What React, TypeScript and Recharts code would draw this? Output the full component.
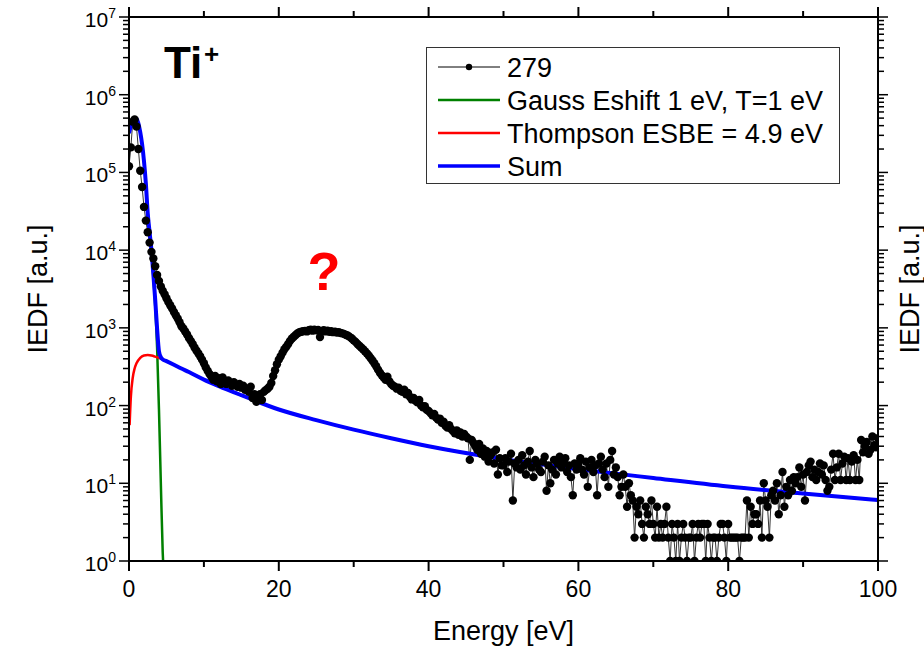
import React from 'react';
import { LineChart, Line, XAxis, YAxis } from 'recharts';

const FONT = '"Liberation Sans", Arial, Helvetica, sans-serif';

// measured spectrum "279", one value every ENERGY_STEP eV from 0 to 100 eV
const ENERGY_STEP = 0.25;
const counts279 = [
  // 0 - 4.75
  1.2e5, 2.1e5, 4.5e5, 4.8e5, 3.9e5, 2.0e5, 1.05e5, 6.5e4, 3.6e4, 2.4e4, 1.7e4, 1.25e4, 9.5e3, 7.8e3, 6.2e3, 4.8e3, 4.0e3, 3.4e3, 3.0e3, 2.7e3,
  // 5 - 9.75
  2.4e3, 2.15e3, 1.95e3, 1.78e3, 1.6e3, 1.45e3, 1.32e3, 1.18e3, 1.05e3, 980, 900, 820, 740, 680, 620, 560, 510, 470, 430, 390,
  // 10 - 14.75
  350, 310, 280, 255, 235, 215, 240, 205, 225, 190, 230, 205, 190, 210, 195, 180, 200, 185, 175, 190,
  // 15 - 19.75
  170, 180, 160, 165, 150, 175, 125, 140, 112, 120, 140, 118, 150, 158, 165, 175, 195, 240, 285, 340,
  // 20 - 24.75
  390, 430, 480, 530, 570, 620, 680, 730, 770, 810, 850, 880, 890, 905, 915, 900, 930, 950, 920, 945,
  // 25 - 29.75
  930, 940, 760, 910, 930, 900, 920, 890, 905, 880, 890, 870, 880, 860, 850, 830, 810, 790, 760, 730,
  // 30 - 34.75
  690, 660, 620, 590, 560, 530, 500, 470, 440, 410, 380, 350, 320, 290, 265, 245, 230, 215, 235, 205,
  // 35 - 39.75
  190, 180, 175, 165, 170, 155, 150, 160, 140, 145, 130, 120, 125, 115, 110, 118, 100, 95, 98, 88,
  // 40 - 44.75
  85, 80, 75, 78, 70, 66, 68, 60, 62, 55, 52, 56, 50, 47, 44, 48, 42, 45, 40, 43,
  // 45 - 49.75
  40, 38, 20, 36, 33, 30, 27, 32, 24, 28, 22, 26, 19, 23, 25, 18, 27, 13, 21, 17,
  // 50 - 54.75
  17, 21, 14, 19, 24, 6, 18, 16, 20, 15, 23, 17, 13, 19, 26, 16, 12, 20, 18, 15,
  // 55 - 59.75
  14, 19, 22, 8, 17, 10, 15, 20, 13, 18, 22, 16, 19, 21, 14, 17, 12, 7, 18, 15,
  // 60 - 64.75
  18, 21, 15, 13, 19, 9, 16, 20, 14, 17, 7, 18, 22, 15, 12, 18, 9, 20, 26, 13,
  // 65 - 69.75
  16, 12, 7, 9, 13, 9, 5, 10, 7, 6, 2, 5, 4, 6, 3, 2, 5, 4, 3, 6,
  // 70 - 74.75
  3, 2, 5, 2, 3, 2, 3, 5, 2, 1, 3, 2, 1, 3, 1, 2, 3, 2, 1, 2,
  // 75 - 79.75
  2, 3, 1, 2, 3, 2, 3, 3, 1, 3, 2, 1, 2, 2, 1, 2, 3, 3, 2, 1,
  // 80 - 84.75
  3, 2, 2, 2, 2, 2, 1, 2, 2, 2, 6, 2, 5, 3, 4, 4, 3, 6, 2, 10,
  // 85 - 89.75
  6, 5, 2, 7, 8, 6, 10, 4, 7, 14, 5, 9, 7, 11, 8, 12, 10, 12, 16, 9,
  // 90 - 94.75
  13, 6, 14, 17, 19, 12, 15, 11, 14, 18, 13, 17, 11, 8, 9, 15, 24, 11, 16, 24,
  // 95 - 100
  11, 18, 22, 11, 21, 11, 19, 23, 11, 20, 11, 36, 25, 30, 34, 24, 27, 40, 31, 29, 38,
];

// Gauss fit (Eshift 1 eV, T = 1 eV)
const gaussEnergy = [0, 0.25, 0.5, 0.75, 1, 1.25, 1.5, 1.75, 2, 2.25, 2.5, 2.75, 3, 3.25, 3.5, 3.75, 4, 4.25, 4.5, 4.55];
const gaussValues = [3.2e5, 4.0e5, 4.7e5, 5.0e5, 4.9e5, 4.3e5, 3.3e5, 2.3e5, 1.4e5, 7.2e4, 3.0e4, 1.7e4, 9.5e3, 4.5e3, 1.9e3, 560, 90, 10, 1.3, 1];

// Thompson fit (ESBE = 4.9 eV)
const thompsonEnergy = [0.08, 0.25, 0.5, 0.75, 1, 1.5, 2, 2.5, 3, 3.5, 4, 4.5, 5, 6, 7, 8, 10, 12, 15, 20, 25, 30, 35, 40, 50, 60, 70, 80, 90, 100];
const thompsonValues = [56, 130, 228, 300, 350, 412, 440, 446, 440, 426, 410, 392, 373, 335, 300, 270, 216, 178, 136, 89, 65, 49, 38, 30, 20.5, 15.2, 11.7, 9.1, 7.4, 6.1];

// Sum of both fits
const sumEnergy = [0, 0.25, 0.5, 0.75, 1, 1.25, 1.5, 1.75, 2, 2.25, 2.5, 2.75, 3, 3.25, 3.5, 3.75, 4, 4.25, 4.5, 5, 6, 7, 8, 10, 12, 15, 20, 25, 30, 35, 40, 50, 60, 70, 80, 90, 100];
const sumValues = [3.2e5, 4.0e5, 4.7e5, 5.0e5, 4.9e5, 4.3e5, 3.3e5, 2.3e5, 1.4e5, 7.2e4, 3.0e4, 1.7e4, 9.9e3, 4.9e3, 2.3e3, 980, 500, 420, 393, 373, 335, 300, 270, 216, 178, 136, 89, 65, 49, 38, 30, 20.5, 15.2, 11.7, 9.1, 7.4, 6.1];

const xTicks = [0, 10, 20, 30, 40, 50, 60, 70, 80, 90, 100];
const xLabelTicks = [0, 20, 40, 60, 80, 100];
const yDecades = [1, 10, 100, 1e3, 1e4, 1e5, 1e6, 1e7];
const yMinorSteps = [2, 3, 4, 5, 6, 7, 8, 9];

const legendItems = [
  { name: '279', color: '#000', width: 1, marker: true },
  { name: 'Gauss Eshift 1 eV, T=1 eV', color: '#008000', width: 2.5, marker: false },
  { name: 'Thompson ESBE = 4.9 eV', color: '#ff0000', width: 2.5, marker: false },
  { name: 'Sum', color: '#0000ff', width: 3.5, marker: false },
];

const yTicks = yDecades.flatMap((d) => (d < 1e7 ? [d, ...yMinorSteps.map((m) => m * d)] : [d]));
const toRows = (es: number[], vs: number[]) => es.map((e, i) => ({ e, v: vs[i] }));

const data279 = counts279.map((v, i) => ({ e: i * ENERGY_STEP, v }));
const gaussData = toRows(gaussEnergy, gaussValues);
const thompsonData = toRows(thompsonEnergy, thompsonValues);
const sumData = toRows(sumEnergy, sumValues);

const MAJOR_LEN = 10;
const MINOR_LEN = 6;
const isDecade = (v: number) => yDecades.includes(v);

// axes use tickSize 0 / tickMargin 0, so x,y here sit exactly on the frame line
const BottomTick = ({ x, y, payload }: any) => {
  const major = xLabelTicks.includes(payload.value);
  return (
    <g>
      <line x1={x} x2={x} y1={y} y2={y + (major ? MAJOR_LEN : MINOR_LEN)} stroke="#000" strokeWidth={2} />
      {major && (
        <text x={x} y={y + 36} textAnchor="middle" fontSize={23} fontFamily={FONT} fill="#000">
          {payload.value}
        </text>
      )}
    </g>
  );
};

const TopTick = ({ x, y, payload }: any) => {
  const major = xLabelTicks.includes(payload.value);
  return <line x1={x} x2={x} y1={y - (major ? MAJOR_LEN : MINOR_LEN)} y2={y} stroke="#000" strokeWidth={2} />;
};

const LeftTick = ({ x, y, payload }: any) => {
  const major = isDecade(payload.value);
  const exp = Math.round(Math.log10(payload.value));
  return (
    <g>
      <line x1={x - (major ? MAJOR_LEN : MINOR_LEN)} x2={x} y1={y} y2={y} stroke="#000" strokeWidth={1.5} />
      {major && (
        <text x={x - 13} y={y + 10} textAnchor="end" fontSize={21} fontFamily={FONT} fill="#000">
          10
          <tspan dy={-9} fontSize={14}>
            {exp}
          </tspan>
        </text>
      )}
    </g>
  );
};

const RightTick = ({ x, y, payload }: any) => {
  const major = isDecade(payload.value);
  return <line x1={x} x2={x + (major ? MAJOR_LEN : MINOR_LEN)} y1={y} y2={y} stroke="#000" strokeWidth={1.5} />;
};

const axisLine = { stroke: '#000', strokeWidth: 2 };
const xProps = { dataKey: 'e', type: 'number' as const, domain: [0, 100], ticks: xTicks, interval: 0, allowDataOverflow: true, stroke: '#000', tickSize: 0, tickMargin: 0, tickLine: false };
const yProps = { scale: 'log' as const, type: 'number' as const, domain: [1, 1e7], ticks: yTicks, interval: 0, allowDataOverflow: true, stroke: '#000', tickSize: 0, tickMargin: 0, tickLine: false };

const App: React.FC = () => {
  return (
    <div style={{ position: 'absolute', left: 0, top: 0, width: 924, height: 648, background: '#fff' }}>
      {/* titles, annotations and legend */}
      <svg width={924} height={648} style={{ position: 'absolute', left: 0, top: 0, pointerEvents: 'none' }} fontFamily={FONT}>
        <text x={503.5} y={640} textAnchor="middle" fontSize={27} fill="#000">
          Energy [eV]
        </text>
        <text transform="translate(47,289) rotate(-90)" textAnchor="middle" fontSize={27} fill="#000">
          IEDF [a.u.]
        </text>
        <text transform="translate(919,289) rotate(-90)" textAnchor="middle" fontSize={27} fill="#000">
          IEDF [a.u.]
        </text>

        <text x={164} y={78} fontSize={44} fontWeight="bold" fill="#000">
          Ti
        </text>
        <text x={204} y={63} fontSize={26} fontWeight="bold" fill="#000">
          +
        </text>
        <text x={324} y={290} textAnchor="middle" fontSize={54} fontWeight="bold" fill="#ff0000">
          ?
        </text>

        <rect x={426.5} y={47.5} width={413} height={136} fill="#fff" stroke="#333" strokeWidth={1} />
        {legendItems.map((item, i) => {
          const cy = 67 + i * 33;
          return (
            <g key={item.name}>
              <line x1={438} x2={500} y1={cy} y2={cy} stroke={item.color} strokeWidth={item.width} />
              {item.marker && <circle cx={469} cy={cy} r={3.2} fill="#000" />}
              <text x={507} y={cy + 10} fontSize={27} fill="#000">
                {item.name}
              </text>
            </g>
          );
        })}
      </svg>

      <LineChart width={924} height={648} margin={{ top: 16, right: 0, bottom: 0, left: 0 }}>
        <XAxis xAxisId="bottom" {...xProps} tick={BottomTick} axisLine={axisLine} height={87} />
        <XAxis xAxisId="top" orientation="top" {...xProps} tick={TopTick} axisLine={axisLine} height={1} />
        <YAxis yAxisId="left" {...yProps} tick={LeftTick} axisLine={axisLine} width={129} />
        <YAxis yAxisId="right" orientation="right" {...yProps} tick={RightTick} axisLine={axisLine} width={46} />

        <Line xAxisId="bottom" yAxisId="left" data={data279} dataKey="v" name="279" type="linear" stroke="#333" strokeWidth={1} dot={{ r: 4.2, fill: '#000', stroke: 'none' }} activeDot={false} isAnimationActive={false} />
        <Line xAxisId="bottom" yAxisId="left" data={gaussData} dataKey="v" name="Gauss" type="monotone" stroke="#008000" strokeWidth={2.5} dot={false} activeDot={false} isAnimationActive={false} />
        <Line xAxisId="bottom" yAxisId="left" data={thompsonData} dataKey="v" name="Thompson" type="monotone" stroke="#ff0000" strokeWidth={2.5} dot={false} activeDot={false} isAnimationActive={false} />
        <Line xAxisId="bottom" yAxisId="left" data={sumData} dataKey="v" name="Sum" type="monotone" stroke="#0000ff" strokeWidth={4} dot={false} activeDot={false} isAnimationActive={false} />
      </LineChart>
    </div>
  );
};

export default App;
